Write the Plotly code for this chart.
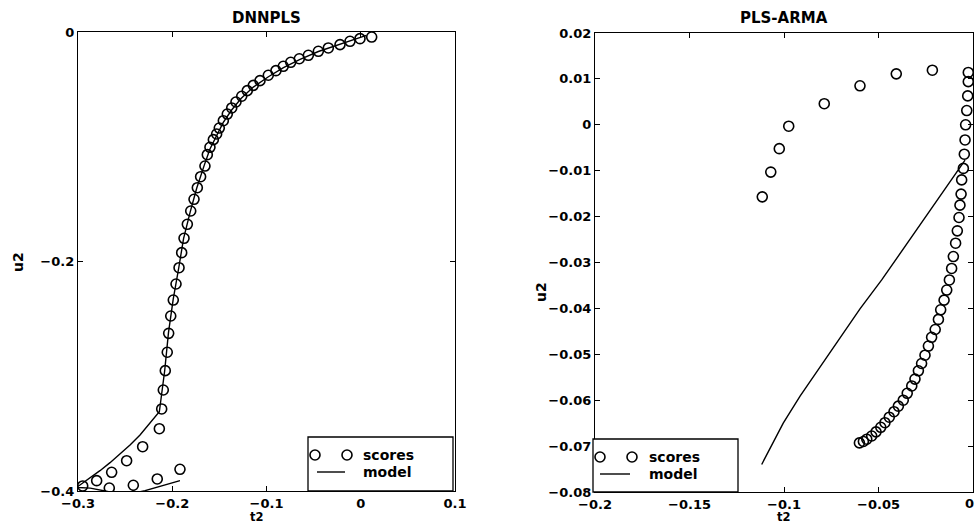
import plotly.graph_objects as go

# ---- DNNPLS: inner-relation scores (t2, u2) and fitted model ----
dnn_scores_t2 = [0.0116, -0.0008, -0.0114, -0.022, -0.0344, -0.045, -0.0556, -0.0652, -0.0743,
                 -0.0822, -0.09, -0.0981, -0.1069, -0.114, -0.1204, -0.1263, -0.1324, -0.1369,
                 -0.1416, -0.1458, -0.1501, -0.1529, -0.1564, -0.16, -0.1628, -0.1653, -0.1699,
                 -0.1734, -0.1769, -0.1804, -0.184, -0.1875, -0.19, -0.1928, -0.196, -0.1989,
                 -0.2016, -0.2038, -0.2053, -0.2074, -0.2095, -0.2112, -0.2137, -0.2314, -0.2484,
                 -0.2643, -0.2802, -0.295, -0.2668, -0.2413, -0.2159, -0.1918]
dnn_scores_u2 = [-0.0044, -0.0058, -0.0081, -0.011, -0.0139, -0.0168, -0.0203, -0.0233, -0.0264,
                 -0.0299, -0.0337, -0.0377, -0.0424, -0.0465, -0.0511, -0.056, -0.061, -0.0662,
                 -0.0715, -0.0773, -0.0837, -0.0889, -0.0938, -0.1005, -0.1069, -0.1168, -0.1261,
                 -0.1357, -0.1458, -0.156, -0.1676, -0.1798, -0.1923, -0.2054, -0.2196, -0.2336,
                 -0.2475, -0.2626, -0.2791, -0.2951, -0.312, -0.3285, -0.3457, -0.3614, -0.3736,
                 -0.3837, -0.391, -0.3956, -0.3974, -0.395, -0.3895, -0.3811]

dnn_model_t2 = [0.006, -0.02, -0.045, -0.065, -0.082, -0.098, -0.114, -0.127, -0.137, -0.146,
                -0.153, -0.16, -0.166, -0.174, -0.181, -0.188, -0.193, -0.199, -0.204, -0.208,
                -0.2137, -0.2236, -0.2342, -0.2448, -0.2554, -0.266, -0.2767, -0.2873, -0.2979,
                -0.302, -0.287, -0.27, -0.25, -0.2289, -0.21, -0.1918]
dnn_model_u2 = [-0.003, -0.010, -0.017, -0.024, -0.031, -0.039, -0.048, -0.058, -0.068, -0.079,
                -0.090, -0.102, -0.116, -0.136, -0.157, -0.180, -0.205, -0.233, -0.262, -0.295,
                -0.331, -0.341, -0.3512, -0.3599, -0.3678, -0.3753, -0.3823, -0.3889, -0.3948,
                -0.3968, -0.3975, -0.4002, -0.4035, -0.3997, -0.3955, -0.3909]

# ---- PLS-ARMA: inner-relation scores (t2, u2) and fitted model ----
arma_scores_t2 = [-0.1115, -0.107, -0.1025, -0.0975, -0.0787, -0.0598, -0.0406, -0.0215, -0.0025,
                  -0.0025, -0.0028, -0.0033, -0.0039, -0.0042, -0.0046, -0.0051, -0.006, -0.0063,
                  -0.0069, -0.0074, -0.0083, -0.0092, -0.0104, -0.0113, -0.0125, -0.0139, -0.0153,
                  -0.0171, -0.0183, -0.02, -0.0219, -0.0236, -0.0254, -0.0272, -0.0289, -0.0307,
                  -0.0324, -0.0348, -0.0369, -0.0395, -0.0418, -0.0443, -0.0466, -0.0488, -0.0513,
                  -0.0536, -0.0562, -0.058, -0.0601]
arma_scores_u2 = [-0.0157, -0.0103, -0.0052, -0.0003, 0.0046, 0.0085, 0.0111, 0.0119, 0.0114,
                  0.0094, 0.0063, 0.0031, 0.0, -0.0033, -0.0064, -0.0095, -0.012, -0.0151,
                  -0.0175, -0.0202, -0.0231, -0.0258, -0.0287, -0.0313, -0.0338, -0.036, -0.0382,
                  -0.0403, -0.0424, -0.0446, -0.0463, -0.0482, -0.0502, -0.052, -0.0536, -0.0554,
                  -0.0569, -0.0585, -0.06, -0.0613, -0.0625, -0.0637, -0.0649, -0.0659, -0.0669,
                  -0.0678, -0.0685, -0.069, -0.0693]

arma_model_t2 = [-0.1118, -0.1063, -0.1004, -0.0915, -0.081, -0.0704, -0.0598, -0.0483, -0.0386,
                 -0.028, -0.0175, -0.0042]
arma_model_u2 = [-0.074, -0.0695, -0.065, -0.0591, -0.0528, -0.0464, -0.0401, -0.0338, -0.0281,
                 -0.0218, -0.0155, -0.0077]

# tick positions and labels
dnn_t2_ticks = [-0.3, -0.2, -0.1, 0, 0.1]
dnn_u2_ticks = [-0.4, -0.2, 0]
arma_t2_ticks = [-0.2, -0.15, -0.1, -0.05, 0]
arma_t2_labels = ["\u22120.2", "\u22120.15", "\u22120.1", "\u22120.05", ""]
arma_t2_edge_label = "0"

panel_titles = ["DNNPLS", "PLS-ARMA"]
legend_labels = ["scores", "model"]

W, H = 975, 524
FONT = "DejaVu Sans"
TICK_SIZE = 13


def px(x):
    return x / W


def py(y):
    return 1 - y / H


marker_style = dict(symbol="circle-open", size=10, color="black", line=dict(width=1.6, color="black"))
line_style = dict(color="black", width=1.4)

fig = go.Figure()
fig.add_trace(go.Scatter(x=dnn_scores_t2, y=dnn_scores_u2, mode="markers", marker=marker_style,
                         xaxis="x", yaxis="y", showlegend=False))
fig.add_trace(go.Scatter(x=dnn_model_t2, y=dnn_model_u2, mode="lines", line=line_style,
                         xaxis="x", yaxis="y", showlegend=False))
fig.add_trace(go.Scatter(x=arma_scores_t2, y=arma_scores_u2, mode="markers", marker=marker_style,
                         xaxis="x2", yaxis="y2", showlegend=False, cliponaxis=False))
fig.add_trace(go.Scatter(x=arma_model_t2, y=arma_model_u2, mode="lines", line=line_style,
                         xaxis="x2", yaxis="y2", showlegend=False))

axis_common = dict(showline=True, linecolor="black", linewidth=1.3, mirror="ticks",
                   ticks="inside", ticklen=5, tickwidth=1, tickcolor="black",
                   showgrid=False, zeroline=False, automargin=False,
                   tickfont=dict(family=FONT, size=TICK_SIZE, color="black", weight="bold"))

fig.update_layout(
    width=W, height=H,
    margin=dict(l=0, r=0, t=0, b=0, pad=0, autoexpand=False),
    paper_bgcolor="white", plot_bgcolor="white",
    xaxis=dict(domain=[px(78), px(455)], range=[-0.3, 0.1], tickvals=dnn_t2_ticks,
               anchor="y", **axis_common),
    yaxis=dict(domain=[py(491), py(32)], range=[-0.4, 0], tickvals=dnn_u2_ticks,
               anchor="x", **axis_common),
    xaxis2=dict(domain=[px(595), px(973)], range=[-0.2, 0], tickvals=arma_t2_ticks,
                ticktext=arma_t2_labels, anchor="y2", **axis_common),
    yaxis2=dict(domain=[py(492), py(33)], range=[-0.08, 0.02], dtick=0.01, tick0=0,
                anchor="x2", **axis_common),
)

annotations = []
shapes = []


def text_at(x, y, s, size=14, angle=0, xanchor="center", bold=True):
    annotations.append(dict(x=px(x), y=py(y), xref="paper", yref="paper",
                            text=("<b>%s</b>" % s) if bold else s,
                            showarrow=False, textangle=angle, xanchor=xanchor, yanchor="middle",
                            font=dict(family=FONT, size=size, color="black"),
                            borderpad=0))


# panel titles
text_at(266.5, 18, panel_titles[0], size=15)
text_at(784, 18, panel_titles[1], size=15)
# axis labels
text_at(257, 516.5, "t2", size=11.5)
text_at(784, 516.5, "t2", size=11.5)
text_at(18, 262, "u2", angle=-90)
text_at(541, 292, "u2", angle=-90)
# last t2 tick label of the right panel, kept inside the page edge
text_at(975, 503.5, arma_t2_edge_label, size=TICK_SIZE, xanchor="right")


def legend_box(x0, y0, x1, y1, cx1, cx2, cy_s, lx0, lx1, cy_m, tx):
    shapes.append(dict(type="rect", xref="paper", yref="paper", x0=px(x0), x1=px(x1),
                       y0=py(y1), y1=py(y0), line=dict(color="black", width=1.3),
                       fillcolor="white", layer="above"))
    for cx in (cx1, cx2):
        shapes.append(dict(type="circle", xref="paper", yref="paper",
                           x0=px(cx - 5), x1=px(cx + 5), y0=py(cy_s + 5), y1=py(cy_s - 5),
                           line=dict(color="black", width=1.6), layer="above"))
    shapes.append(dict(type="line", xref="paper", yref="paper", x0=px(lx0), x1=px(lx1),
                       y0=py(cy_m), y1=py(cy_m), line=dict(color="black", width=1.4),
                       layer="above"))
    text_at(tx, cy_s, legend_labels[0], size=14, xanchor="left")
    text_at(tx, cy_m, legend_labels[1], size=14, xanchor="left")


legend_box(308, 437, 453, 491, 315, 347, 455, 317, 345, 472, 362)
legend_box(593, 439, 738, 492, 600, 632, 457, 600, 630, 474, 648)

fig.update_layout(annotations=annotations, shapes=shapes)

fig.write_html("out.html")
